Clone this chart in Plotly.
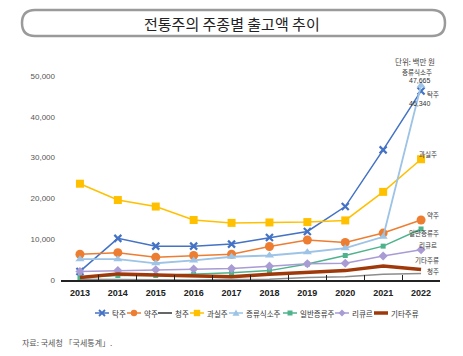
import plotly.graph_objects as go

years = ["2013", "2014", "2015", "2016", "2017", "2018", "2019", "2020", "2021", "2022"]
takju = [2100, 10200, 8300, 8300, 8800, 10400, 11900, 18000, 31900, 46340]
yakju = [6300, 6700, 5600, 6000, 6300, 8200, 9800, 9200, 11500, 14700]
cheongju = [200, 100, 0, 0, 100, 200, 600, 800, 1400, 1600]
gwasilju = [23600, 19600, 18000, 14700, 14000, 14100, 14200, 14600, 21600, 29600]
jeungryusik = [5100, 5100, 4100, 4800, 5700, 6000, 6800, 7800, 10600, 47665]
ilban = [600, 1100, 1100, 1400, 1800, 2300, 3900, 6000, 8300, 12500]
liqueur = [2100, 2300, 2500, 2700, 2800, 3400, 4000, 4100, 5900, 7400]
gita = [600, 1500, 1200, 1000, 800, 1400, 1900, 2300, 3400, 2600]
y_ticks = [0, 10000, 20000, 30000, 40000, 50000]

W, H = 463, 356
L, R, T, B = 61, 23, 76, 76
PW, PH = W - L - R, H - T - B

def px(x):
    return (x - L) / PW

def py(y):
    return (H - B - y) / PH

FONT = "Liberation Sans, Noto Sans CJK KR, sans-serif"
KFONT = "Noto Sans CJK KR, sans-serif"

fig = go.Figure()

series = [
    # name, values, color, symbol, size, width
    ("탁주", takju, "#4472C4", "x-thin", 7, 1.5),
    ("약주", yakju, "#ED7D31", "circle", 9, 1.5),
    ("청주", cheongju, "#8C8C8C", None, 0, 1.6),
    ("과실주", gwasilju, "#FFC000", "square", 8, 1.5),
    ("증류식소주", jeungryusik, "#9DC3E6", "triangle-up", 8, 1.8),
    ("일반증류주", ilban, "#4EB38C", "square", 5, 1.5),
    ("리큐르", liqueur, "#A99BD4", "diamond", 7, 1.5),
    ("기타주류", gita, "#A0390A", None, 0, 3.5),
]

for name, vals, color, symbol, size, width in series:
    if symbol:
        marker = dict(color=color, symbol=symbol, size=size)
        if symbol == "x-thin":
            marker["line"] = dict(color=color, width=2.2)
        fig.add_trace(go.Scatter(x=years, y=vals, name=name, mode="lines+markers",
                                 line=dict(color=color, width=width),
                                 marker=marker, cliponaxis=False))
    else:
        fig.add_trace(go.Scatter(x=years, y=vals, name=name, mode="lines",
                                 line=dict(color=color, width=width),
                                 cliponaxis=False))

shapes = []

def pshape(**kw):
    kw.setdefault("xref", "paper")
    kw.setdefault("yref", "paper")
    shapes.append(kw)

# rounded title box
x0, x1, y0, y1, r = 22, 445, 10, 36, 13
path = (f"M {px(x0 + r)} {py(y0)} L {px(x1 - r)} {py(y0)} "
        f"Q {px(x1)} {py(y0)} {px(x1)} {py((y0 + y1) / 2)} "
        f"Q {px(x1)} {py(y1)} {px(x1 - r)} {py(y1)} "
        f"L {px(x0 + r)} {py(y1)} "
        f"Q {px(x0)} {py(y1)} {px(x0)} {py((y0 + y1) / 2)} "
        f"Q {px(x0)} {py(y0)} {px(x0 + r)} {py(y0)} Z")
pshape(type="path", path=path, line=dict(color="#9A9A9A", width=2.5), fillcolor="white")

ann = []
def note(text, x, y, size=7.5, anchor="center", color="#333333", font=KFONT):
    ann.append(dict(text=text, x=px(x), y=py(y), xref="paper", yref="paper",
                    xanchor=anchor, yanchor="middle", showarrow=False,
                    font=dict(size=size, color=color, family=font)))

# custom legend (one row)
leg_y = 313
leg_x = [95, 127, 158, 190, 229, 283, 335, 374]
for (name, vals, color, symbol, size, width), lx in zip(series, leg_x):
    seg = 14
    lw = 3.5 if width > 3 else 1.5
    color_l = "#333333" if name == "청주" else color
    pshape(type="line", x0=px(lx), x1=px(lx + seg), y0=py(leg_y), y1=py(leg_y),
           line=dict(color=color_l, width=lw))
    cx = lx + seg / 2
    if symbol == "x-thin":
        d = 3
        pshape(type="path", path=f"M {px(cx-d)} {py(leg_y-d)} L {px(cx+d)} {py(leg_y+d)} "
                                 f"M {px(cx-d)} {py(leg_y+d)} L {px(cx+d)} {py(leg_y-d)}",
               line=dict(color=color, width=1.8))
    elif symbol == "circle":
        d = 3.2
        pshape(type="circle", x0=px(cx-d), x1=px(cx+d), y0=py(leg_y-d), y1=py(leg_y+d),
               line=dict(color=color, width=0), fillcolor=color)
    elif symbol == "square":
        d = 3.2 if size > 6 else 2.5
        pshape(type="rect", x0=px(cx-d), x1=px(cx+d), y0=py(leg_y-d), y1=py(leg_y+d),
               line=dict(color=color, width=0), fillcolor=color)
    elif symbol == "triangle-up":
        d = 3.5
        pshape(type="path", path=f"M {px(cx)} {py(leg_y-d)} L {px(cx+d)} {py(leg_y+d*0.8)} "
                                 f"L {px(cx-d)} {py(leg_y+d*0.8)} Z",
               line=dict(color=color, width=0), fillcolor=color)
    elif symbol == "diamond":
        d = 3.5
        pshape(type="path", path=f"M {px(cx)} {py(leg_y-d)} L {px(cx+d)} {py(leg_y)} "
                                 f"L {px(cx)} {py(leg_y+d)} L {px(cx-d)} {py(leg_y)} Z",
               line=dict(color=color, width=0), fillcolor=color)
    note(name, lx + seg + 1, leg_y, size=7.5, anchor="left", color="#333333")

note("전통주의 주종별 출고액 추이", 232, 23, size=15, color="#222222")
note("단위: 백만 원", 437, 61, size=7.5, anchor="right", color="#444444")
note("증류식소주", 434, 71.5, size=6.5, anchor="right")
note(f"{jeungryusik[-1]:,}", 433, 80.5, size=7, anchor="right", font=FONT)
note("탁주", 441, 94, size=6.5, anchor="right")
note(f"{takju[-1]:,}", 433, 103, size=7, anchor="right", font=FONT)
note("과실주", 439, 154, size=6.5, anchor="right")
note("약주", 441, 215, size=6.5, anchor="right")
note("일반증류주", 441, 233, size=6.5, anchor="right")
note("리큐르", 439, 245, size=6.5, anchor="right")
note("기타주류", 441, 260, size=6.5, anchor="right")
note("청주", 441, 271, size=6.5, anchor="right")
note("자료: 국세청 「국세통계」.", 20, 342, size=8, anchor="left", color="#555555")

fig.update_layout(
    width=W, height=H,
    margin=dict(l=L, r=R, t=T, b=B, autoexpand=False),
    paper_bgcolor="white", plot_bgcolor="white",
    font=dict(family=FONT, size=8, color="#333333"),
    showlegend=False,
    annotations=ann,
    shapes=shapes,
    xaxis=dict(type="category", range=[-0.5, 9.5], showgrid=False,
               showline=True, linecolor="#222222", linewidth=1.5,
               ticks="inside", tickson="boundaries", ticklen=5,
               tickcolor="#222222", tickwidth=1.2,
               tickfont=dict(size=9, color="#222222",
                             family="Liberation Sans, sans-serif", weight="bold"),
               ticklabelstandoff=3, zeroline=False),
    yaxis=dict(range=[0, 50000], tickvals=y_ticks,
               ticktext=[f"{v:,}" for v in y_ticks], showgrid=False,
               showline=False, zeroline=False, ticks="",
               tickfont=dict(size=8, color="#555555"), ticklabelstandoff=5),
)

fig.write_html("out.html", config={"displayModeBar": False},
               post_script="document.body.style.margin='0';document.body.style.overflow='hidden';")
